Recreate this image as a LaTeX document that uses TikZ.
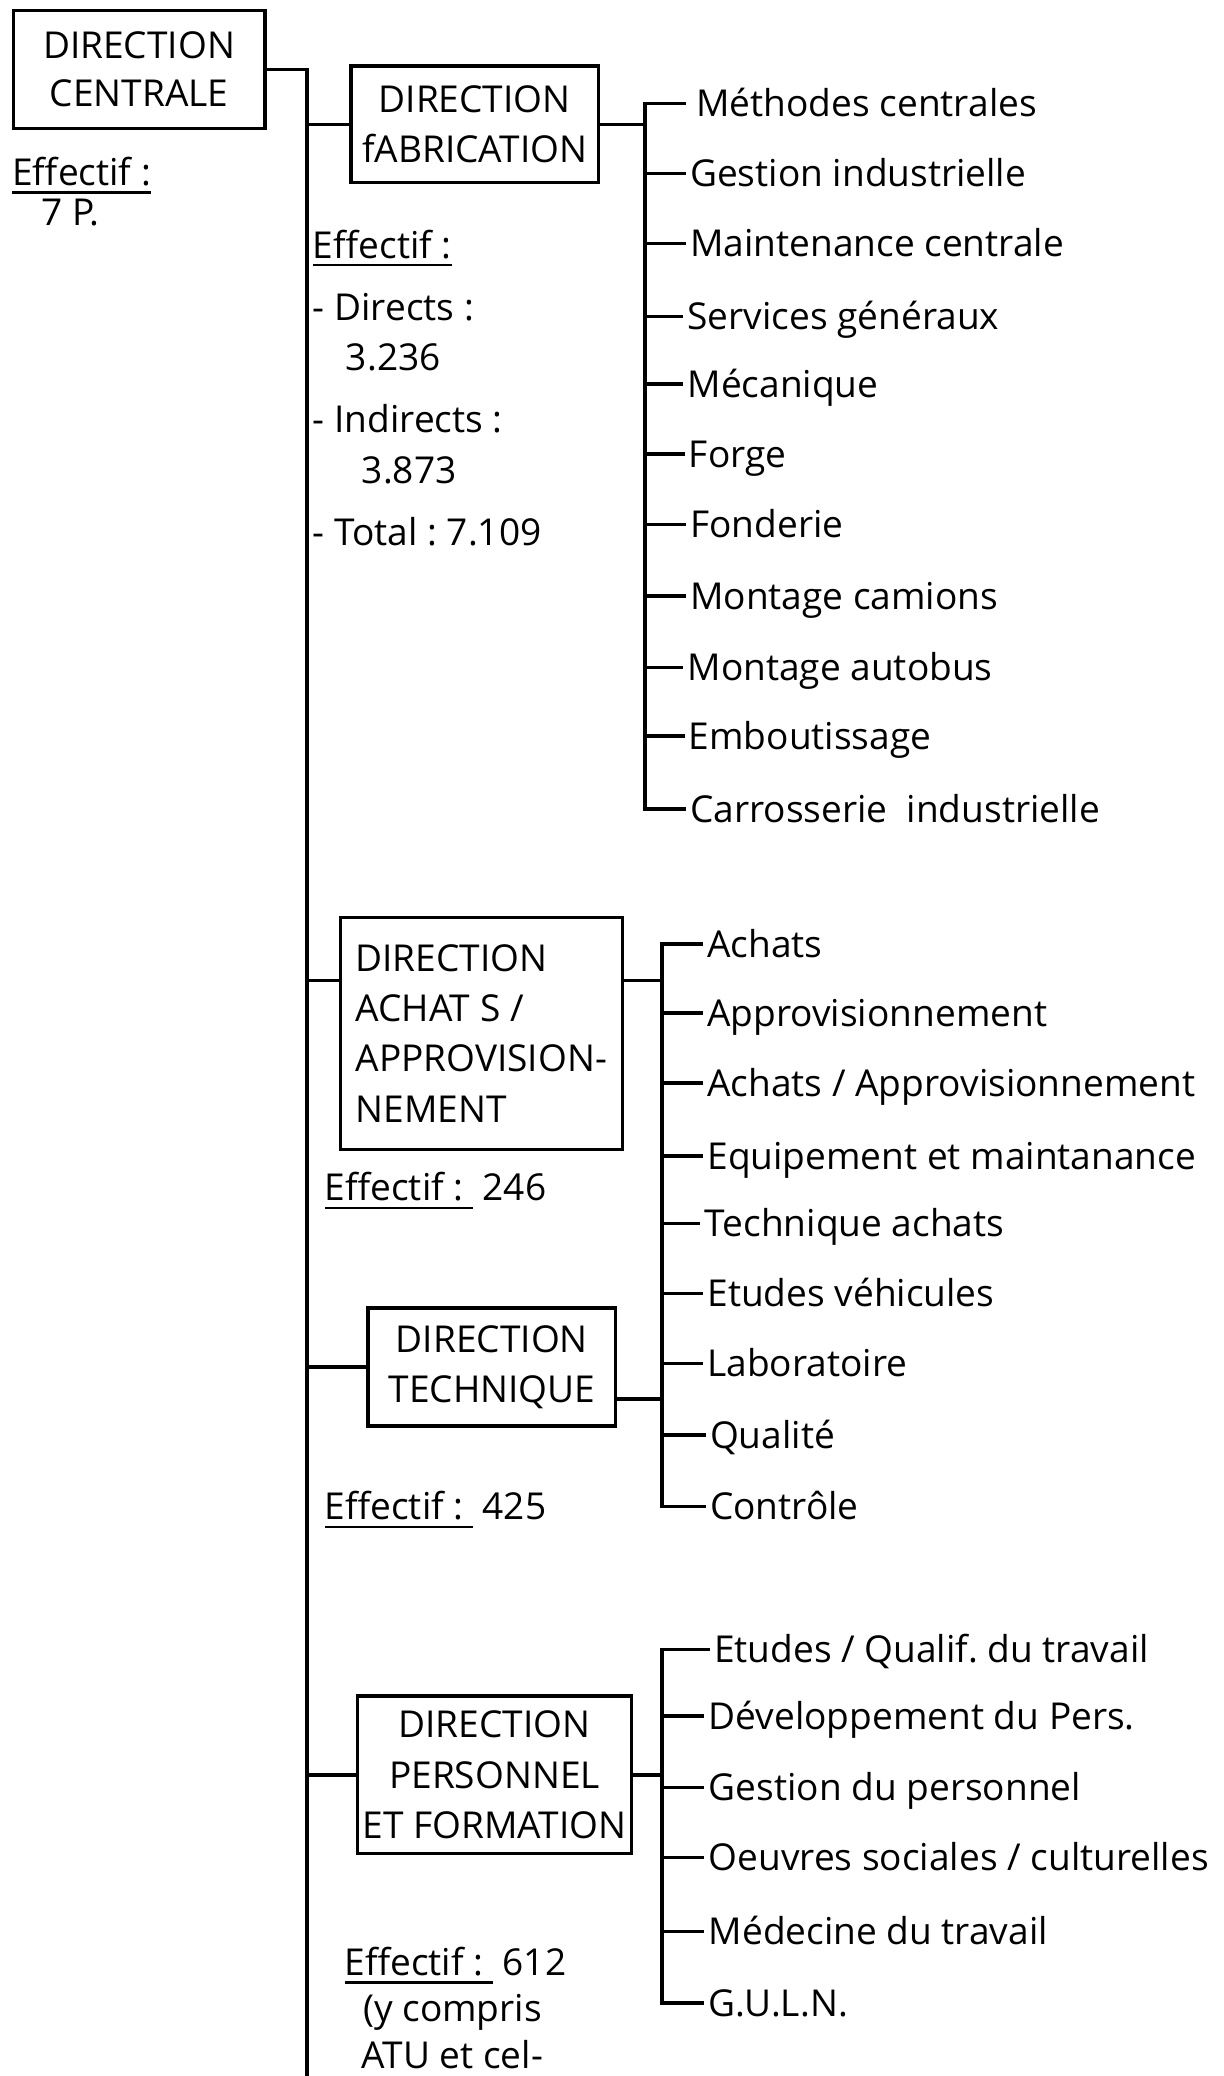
\documentclass[tikz,border=0pt]{standalone}
\usepackage{fontspec}
\setmainfont{Open Sans}
\usetikzlibrary{positioning}
\frenchspacing
\newcommand{\souligne}[1]{\setbox0=\hbox{#1}\rlap{\rule[-0.22em]{\wd0}{1.8pt}}\box0}

\begin{document}
\begin{tikzpicture}[x=1pt, y=-1pt, line width=2.6pt,
    every node/.style={font=\fontsize{28}{38}\selectfont},
    dirbox/.style={draw, align=center, inner sep=0pt},
    item/.style={anchor=west, inner sep=2pt, text height=20pt, text depth=0pt},
    effectif/.style={anchor=base west, align=left, inner sep=0pt}]
  \useasboundingbox (0,0) rectangle (924,1568);

  % direction centrale
  \node[dirbox, minimum width=190pt, minimum height=89pt, font=\fontsize{28}{36}\selectfont] (central) at (105,52.5) {DIRECTION\\CENTRALE};
  \node[effectif, font=\fontsize{28}{30}\selectfont] (centraleff) at (8,170) {\souligne{Effectif :}\\\hspace*{22pt}7 P.};
  \coordinate (trunkend) at (232,1568);
  \draw (central.east) -| (trunkend);

  % direction fabrication
  \node[dirbox, minimum width=187pt, minimum height=88pt] (fab) at (358.5,94) {DIRECTION\\fABRICATION};
  \node[effectif] (fabeff) at (235,412) {\souligne{Effectif :}\\[9pt]- Directs :\\\hspace*{25pt}3.236\\[9pt]- Indirects :\\\hspace*{37pt}3.873\\[9pt]- Total : 7.109};
  \draw (fab.west -| trunkend) -- (fab.west);

  \node[item] (fab1) at (518,78) {\,Méthodes centrales};
  \node[item] (fab2) at (518,131) {Gestion industrielle};
  \node[item] (fab3) at (518,184) {Maintenance centrale};
  \node[item] (fab4) at (516,239) {Services généraux};
  \node[item] (fab5) at (516,290) {Mécanique};
  \node[item] (fab6) at (517,343) {Forge};
  \node[item] (fab7) at (518,396) {Fonderie};
  \node[item] (fab8) at (518,450) {Montage camions};
  \node[item] (fab9) at (516,504) {Montage autobus};
  \node[item] (fab10) at (517,556) {Emboutissage};
  \node[item] (fab11) at (518,611) {Carrosserie\ \ industrielle};

  \coordinate (fabbar) at (487,0);
  \draw (fab.east) -- (fab.east -| fabbar);
  \draw (fab1.west) -- (fab1.west -| fabbar) -- (fab11.west -| fabbar) -- (fab11.west);
  \foreach \i in {2,...,10}
    \draw (fab\i.west -| fabbar) -- (fab\i.west);

  % direction achats / approvisionnement
  \node[dirbox, align=left, minimum width=213pt, minimum height=175pt] (ach) at (363.5,780.5) {DIRECTION\\ACHAT S /\\APPROVISION-\\NEMENT};
  \node[effectif] (acheff) at (244,907) {\souligne{Effectif :\ }\ 246};
  \coordinate (achin) at ([yshift=40pt]ach.west);
  \coordinate (achout) at ([yshift=40pt]ach.east);
  \draw (achin -| trunkend) -- (achin);

  % direction technique
  \node[dirbox, minimum width=187pt, minimum height=89pt] (tech) at (371.5,1032.5) {DIRECTION\\TECHNIQUE};
  \node[effectif] (techeff) at (244,1148) {\souligne{Effectif :\ }\ 425};
  \coordinate (techout) at ([yshift=-24pt]tech.east);
  \draw (tech.west -| trunkend) -- (tech.west);

  \node[item] (ach1) at (531,713) {Achats};
  \node[item] (ach2) at (531,765) {Approvisionnement};
  \node[item] (ach3) at (531,818) {Achats / Approvisionnement};
  \node[item] (ach4) at (531,873) {Equipement et maintanance};
  \node[item] (ach5) at (529,924) {Technique achats};
  \node[item] (ach6) at (531,977) {Etudes véhicules};
  \node[item] (ach7) at (531,1030) {Laboratoire};
  \node[item] (ach8) at (533,1084) {Qualité};
  \node[item] (ach9) at (533,1138) {Contrôle};

  \coordinate (achbar) at (500,0);
  \draw (achout) -- (achout -| achbar);
  \draw (techout) -- (techout -| achbar);
  \draw (ach1.west) -- (ach1.west -| achbar) -- (ach9.west -| achbar) -- (ach9.west);
  \foreach \i in {2,...,8}
    \draw (ach\i.west -| achbar) -- (ach\i.west);

  % direction personnel et formation
  \node[dirbox, minimum width=207pt, minimum height=119pt] (pers) at (373.5,1340.5) {DIRECTION\\PERSONNEL\\ET FORMATION};
  \node[effectif, font=\fontsize{28}{35}\selectfont] (perseff) at (259,1562) {\souligne{Effectif :\ }\ 612\\\hspace*{14pt}(y compris\\\hspace*{13pt}ATU et cel-};
  \draw (pers.west -| trunkend) -- (pers.west);

  \node[item] (pers1) at (536,1246) {Etudes / Qualif. du travail};
  \node[item] (pers2) at (532,1296) {Développement du Pers.};
  \node[item] (pers3) at (532,1350) {Gestion du personnel};
  \node[item] (pers4) at (532,1403) {Oeuvres sociales / culturelles};
  \node[item] (pers5) at (532,1459) {Médecine du travail};
  \node[item] (pers6) at (532,1513) {G.U.L.N.};

  \coordinate (persbar) at (500,0);
  \draw (pers.east) -- (pers.east -| persbar);
  \draw (pers1.west) -- (pers1.west -| persbar) -- (pers6.west -| persbar) -- (pers6.west);
  \foreach \i in {2,...,5}
    \draw (pers\i.west -| persbar) -- (pers\i.west);
\end{tikzpicture}
\end{document}
